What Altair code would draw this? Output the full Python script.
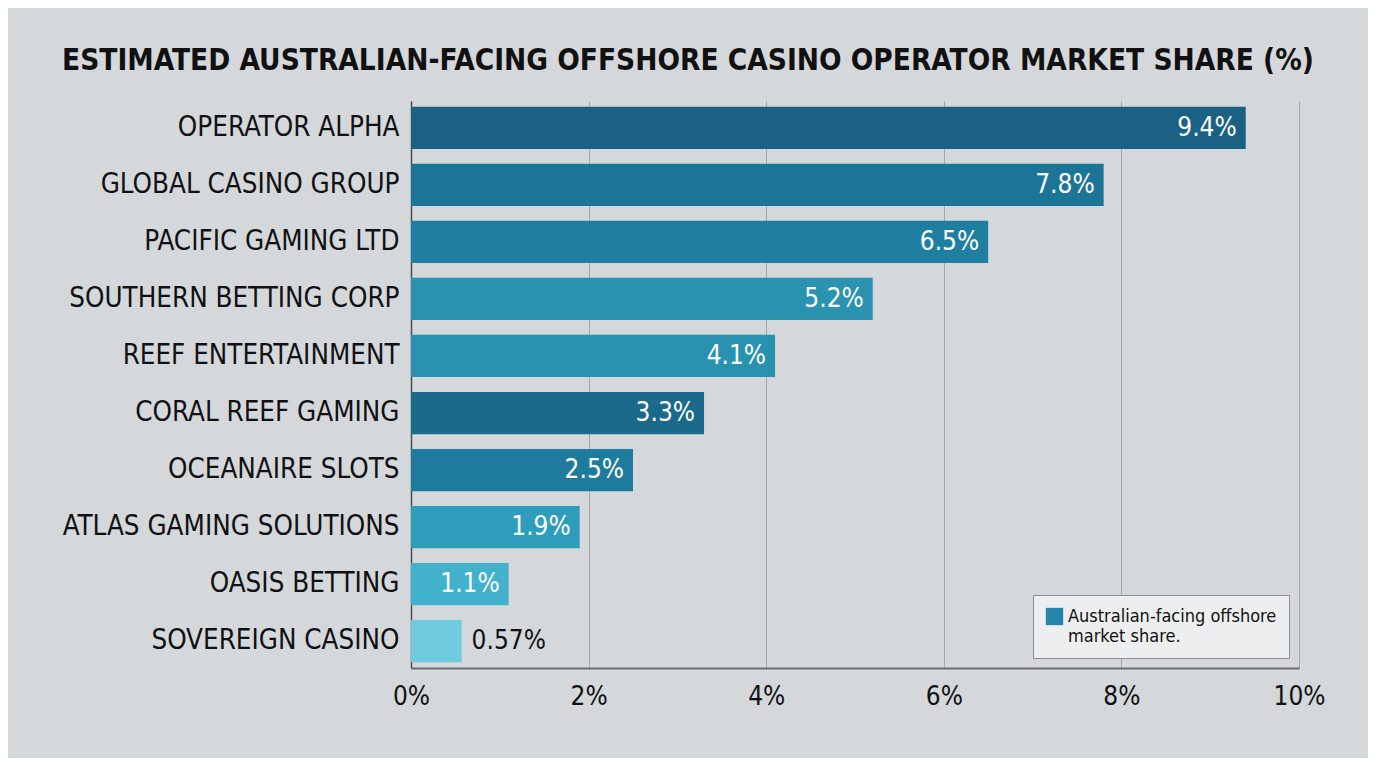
import altair as alt
import pandas as pd

operators = [
    "OPERATOR ALPHA", "GLOBAL CASINO GROUP", "PACIFIC GAMING LTD",
    "SOUTHERN BETTING CORP", "REEF ENTERTAINMENT", "CORAL REEF GAMING",
    "OCEANAIRE SLOTS", "ATLAS GAMING SOLUTIONS", "OASIS BETTING", "SOVEREIGN CASINO",
]
shares = [9.4, 7.8, 6.5, 5.2, 4.1, 3.3, 2.5, 1.9, 1.1, 0.57]
share_labels = ["9.4%", "7.8%", "6.5%", "5.2%", "4.1%", "3.3%", "2.5%", "1.9%", "1.1%", "0.57%"]
bar_colors = ["#1b6184", "#1c7597", "#1f7fa0", "#2a93b0", "#2892b0",
              "#1b6a8c", "#1e7b9d", "#2e9dbc", "#42b1cb", "#6fcadf"]
x_ticks = [0, 2, 4, 6, 8, 10]
legend_label = "Australian-facing offshore market share."
legend_color = "#2585ad"

FONT = "Liberation Sans Narrow, DejaVu Sans Condensed, sans-serif"

df = pd.DataFrame({"operator": operators, "share": shares,
                   "label": share_labels, "color": bar_colors})
leg_df = pd.DataFrame({"series": [legend_label], "operator": [operators[0]], "share": [0.0]})

y_enc = alt.Y("operator:N", sort=operators, title=None,
              scale=alt.Scale(paddingInner=0.26, paddingOuter=0.1),
              axis=alt.Axis(labelFont=FONT, labelFontSize=27.5, labelColor="#111111",
                            labelPadding=12, ticks=False, domainColor="#4a4d50",
                            domainWidth=1.5, minExtent=403, maxExtent=403,
                            labelLimit=400))
x_enc = alt.X("share:Q", title=None,
              scale=alt.Scale(domain=[0, 10], nice=False),
              axis=alt.Axis(values=x_ticks, labelExpr="datum.value + '%'",
                            labelFlush=False,
                            labelFont=FONT, labelFontSize=26, labelColor="#111111",
                            labelPadding=15, ticks=False, grid=True,
                            gridColor="#a3a7ab", gridWidth=1,
                            domainColor="#6a6e72", domainWidth=2))

bars = alt.Chart(df).mark_bar().encode(
    x=x_enc, y=y_enc,
    color=alt.Color("color:N", scale=None),
)

inside = alt.Chart(df).transform_filter("datum.share >= 1").mark_text(
    align="right", baseline="middle", dx=-9, font=FONT, fontSize=26, color="white"
).encode(x="share:Q", y=alt.Y("operator:N", sort=operators), text="label:N")

outside = alt.Chart(df).transform_filter("datum.share < 1").mark_text(
    align="left", baseline="middle", dx=10, font=FONT, fontSize=26, color="#111111"
).encode(x="share:Q", y=alt.Y("operator:N", sort=operators), text="label:N")

legend_layer = alt.Chart(leg_df).mark_bar(opacity=1).encode(
    x="share:Q", x2=alt.X2("share:Q"),
    y=alt.Y("operator:N", sort=operators),
    fill=alt.Fill("series:N", scale=alt.Scale(range=[legend_color]),
                  legend=alt.Legend(title=None, orient="bottom-right", offset=10,
                                    symbolType="square", symbolSize=300,
                                    labelFont=FONT, labelFontSize=18, labelColor="#111111",
                                    labelExpr="['Australian-facing offshore', 'market share.']",
                                    labelLimit=300,
                                    fillColor="#eceeef", strokeColor="#8c9094",
                                    padding=12, cornerRadius=0)),
)

chart = alt.layer(bars, inside, outside, legend_layer).resolve_scale(
    color="independent", fill="independent"
).properties(
    width=888, height=567,
    background="#d4d8db",
    padding={"left": 0, "top": 37, "right": 43, "bottom": 49},
    title=alt.TitleParams(
        "ESTIMATED AUSTRALIAN-FACING OFFSHORE CASINO OPERATOR MARKET SHARE (%)",
        font=FONT, fontSize=29.5, fontWeight="bold", color="#111111",
        anchor="middle", frame="group", dx=-167, offset=25),
).configure_view(stroke=None)

chart.save("out.html", embed_options={"renderer": "svg", "actions": False})
